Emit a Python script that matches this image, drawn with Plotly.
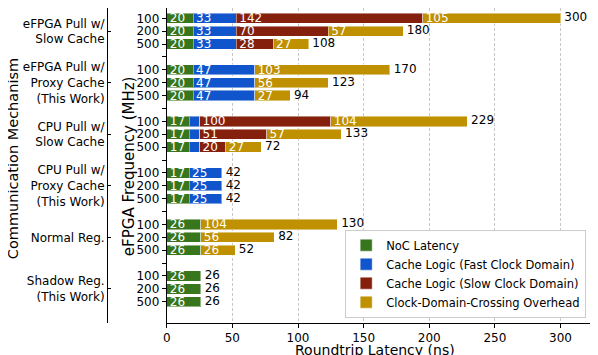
import plotly.graph_objects as go

# Data
mechanisms = ["eFPGA Pull w/<br>Slow Cache",
              "eFPGA Pull w/<br>Proxy Cache<br>(This Work)",
              "CPU Pull w/<br>Slow Cache",
              "CPU Pull w/<br>Proxy Cache<br>(This Work)",
              "Normal Reg.",
              "Shadow Reg.<br>(This Work)"]
freqs = ["100", "200", "500"]

noc_latency = [20, 20, 20, 20, 20, 20, 17, 17, 17, 17, 17, 17, 26, 26, 26, 26, 26, 26]
cache_fast = [33, 33, 33, 47, 47, 47, 8, 8, 8, 25, 25, 25, 0, 0, 0, 0, 0, 0]
cache_slow = [142, 70, 28, 0, 0, 0, 100, 51, 20, 0, 0, 0, 0, 0, 0, 0, 0, 0]
cdc_overhead = [105, 57, 27, 103, 56, 27, 104, 57, 27, 0, 0, 0, 104, 56, 26, 0, 0, 0]

series = [
    ("NoC Latency", noc_latency, "#38761d"),
    ("Cache Logic (Fast Clock Domain)", cache_fast, "#1155cc"),
    ("Cache Logic (Slow Clock Domain)", cache_slow, "#85200c"),
    ("Clock-Domain-Crossing Overhead", cdc_overhead, "#bf9000"),
]

FONT = "DejaVu Sans"

# y positions: 3 bars per group, one empty slot between groups
ypos = []
for g in range(len(mechanisms)):
    for f in range(len(freqs)):
        ypos.append(g * 4 + f)
gap_pos = [g * 4 + 3 for g in range(len(mechanisms) - 1)]
group_centers = [g * 4 + 1 for g in range(len(mechanisms))]

fig = go.Figure()

for name, vals, color in series:
    fig.add_trace(go.Bar(
        y=ypos,
        x=[v if v > 0 else None for v in vals],
        orientation="h",
        name=name,
        marker=dict(color=color, line=dict(color="rgba(255,255,255,0.45)", width=1)),
        width=0.8,
        text=[str(v) if v >= 10 else "" for v in vals],
        textposition="inside",
        insidetextanchor="start",
        constraintext="none",
        textfont=dict(color="white", size=12, family=FONT),
        cliponaxis=False,
    ))

totals = [a + b + c + d for a, b, c, d in zip(noc_latency, cache_fast, cache_slow, cdc_overhead)]
fig.add_trace(go.Scatter(
    y=ypos,
    x=totals,
    mode="text",
    text=["\u00a0" + str(t) for t in totals],
    textposition="middle right",
    textfont=dict(color="black", size=12, family=FONT),
    showlegend=False,
    yaxis="y2",
    cliponaxis=False,
))

# page body adds an 8px offset, so the figure is sized to the visible part
yrange = [23.65, -0.80]

fig.update_layout(
    template="none",
    width=590, height=347,
    margin=dict(l=99, r=6, t=0, b=32, autoexpand=False),
    paper_bgcolor="white",
    plot_bgcolor="white",
    barmode="stack",
    font=dict(family=FONT, size=12, color="black"),
    xaxis=dict(
        domain=[0.1232, 1],
        range=[0, 324],
        automargin=False,
        tickvals=[0, 50, 100, 150, 200, 250, 300],
        showgrid=True, gridcolor="#c8c8c8", griddash="3px,2px", gridwidth=1,
        showline=True, linecolor="black", linewidth=1,
        ticks="outside", ticklen=4, tickcolor="black",
        tickfont=dict(size=12),
        zeroline=False,
    ),
    yaxis=dict(
        range=yrange,
        automargin=False,
        tickvals=ypos,
        ticktext=[freqs[i % 3] for i in range(len(ypos))],
        showline=True, mirror=True, linecolor="black", linewidth=1,
        ticks="outside", ticklen=4, tickcolor="black",
        minor=dict(tickvals=gap_pos, ticks="outside", ticklen=4, tickcolor="black"),
        tickfont=dict(size=12),
        showgrid=False, zeroline=False,
    ),
    yaxis2=dict(
        overlaying="y",
        anchor="free",
        position=0,
        side="left",
        range=yrange,
        automargin=False,
        tickvals=group_centers,
        ticktext=mechanisms,
        showline=True, linecolor="black", linewidth=1,
        ticks="inside", ticklen=3, tickcolor="black",
        tickfont=dict(size=12),
        showgrid=False, zeroline=False,
    ),
    legend=dict(
        x=0.988, y=0.017, xanchor="right", yanchor="bottom",
        bgcolor="white", bordercolor="#cccccc", borderwidth=1,
        font=dict(size=11.5), traceorder="normal",
        itemwidth=30,
    ),
    showlegend=True,
)

fig.add_annotation(text="Communication Mechanism", textangle=-90,
                   x=-0.1946, y=0.522, xref="paper", yref="paper",
                   xanchor="center", yanchor="middle",
                   showarrow=False, font=dict(size=14.5))
fig.add_annotation(text="eFPGA Frequency (MHz)", textangle=-90,
                   x=0.0454, y=0.498, xref="paper", yref="paper",
                   xanchor="center", yanchor="middle",
                   showarrow=False, font=dict(size=15))
fig.add_annotation(text="Roundtrip Latency (ns)",
                   x=0.553, y=-0.0868, xref="paper", yref="paper",
                   xanchor="center", yanchor="middle",
                   showarrow=False, font=dict(size=14))

fig.write_html("out.html")
